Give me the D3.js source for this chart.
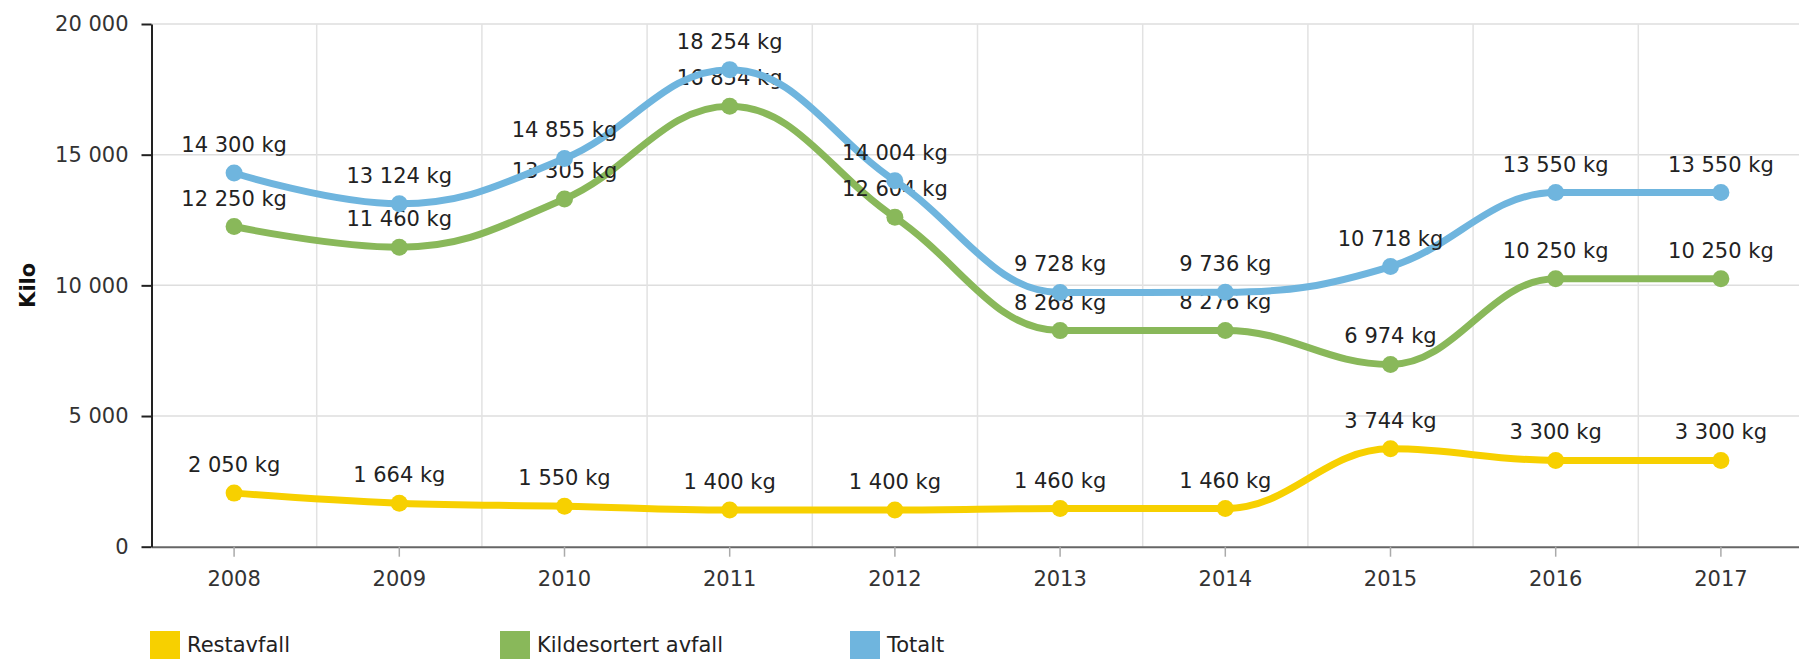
<!DOCTYPE html>
<html>
<head>
<meta charset="utf-8">
<script src="https://cdn.jsdelivr.net/npm/d3@7"></script>
<style>
  html, body { margin: 0; padding: 0; background: #fff; overflow: hidden; }
  svg { display: block; font-family: "DejaVu Sans", Verdana, sans-serif; }
</style>
</head>
<body>
<svg id="chart" width="1799" height="659"></svg>
<script>
// ---- data ----
const years = ["2008","2009","2010","2011","2012","2013","2014","2015","2016","2017"];
const restavfall = [2050, 1664, 1550, 1400, 1400, 1460, 1460, 3744, 3300, 3300];
const kildesortert = [12250, 11460, 13305, 16854, 12604, 8268, 8276, 6974, 10250, 10250];
const totalt = [14300, 13124, 14855, 18254, 14004, 9728, 9736, 10718, 13550, 13550];
const seriesNames = ["Restavfall", "Kildesortert avfall", "Totalt"];
const yTicks = [0, 5000, 10000, 15000, 20000];
const yTitle = "Kilo";
const unit = " kg";

const colors = ["#F7D000", "#89B85A", "#6FB5DE"];
const seriesData = [restavfall, kildesortert, totalt];

const locale = d3.formatLocale({ decimal: ",", thousands: " ", grouping: [3], currency: ["", " kr"] });
const fmt = locale.format(",d");

const svg = d3.select("#chart");
const plotLeft = 151.5, plotTop = 24, plotBottom = 546.7, bandW = 165.2;
const x = d3.scaleBand().domain(years).range([plotLeft, plotLeft + bandW * years.length]).padding(0);
const y = d3.scaleLinear().domain([0, 20000]).range([plotBottom, plotTop]);
const cx = d => x(d) + x.bandwidth() / 2;

// grid
const grid = svg.append("g");
grid.selectAll("line.h").data(yTicks.filter(t => t > 0)).join("line")
  .attr("x1", plotLeft).attr("x2", 1799).attr("y1", d => y(d)).attr("y2", d => y(d))
  .attr("stroke", "#dedede").attr("stroke-width", 1.5);
grid.selectAll("line.v").data(years.slice(1)).join("line")
  .attr("x1", d => x(d)).attr("x2", d => x(d)).attr("y1", plotTop).attr("y2", plotBottom)
  .attr("stroke", "#e2e2e2").attr("stroke-width", 1.5);

// x axis
const xAxis = d3.axisBottom(x).tickSize(10).tickPadding(14).tickSizeOuter(0);
const gx = svg.append("g").attr("transform", `translate(0,${plotBottom})`).call(xAxis);
gx.select(".domain").attr("stroke", "#666").attr("stroke-width", 2);
gx.selectAll(".tick line").attr("stroke", "#aaa").attr("stroke-width", 1.5);
gx.selectAll(".tick text").attr("font-size", 21).attr("fill", "#333")
  .attr("font-family", "DejaVu Sans");

// y axis
const yAxis = d3.axisLeft(y).tickValues(yTicks).tickFormat(fmt).tickSize(10).tickPadding(13).tickSizeOuter(0);
const gy = svg.append("g").attr("transform", `translate(${plotLeft},0)`).call(yAxis);
gy.select(".domain").attr("stroke", "#222").attr("stroke-width", 2);
gy.selectAll(".tick line").attr("stroke", "#222").attr("stroke-width", 2);
gy.selectAll(".tick text").attr("font-size", 21).attr("fill", "#333")
  .attr("font-family", "DejaVu Sans");

svg.append("text")
  .attr("transform", `translate(35,${(plotTop + plotBottom) / 2}) rotate(-90)`)
  .attr("text-anchor", "middle").attr("font-size", 21).attr("font-weight", "bold")
  .attr("fill", "#111").text(yTitle);

// Highcharts-style spline
function splinePath(pts) {
  const smoothing = 1.5, denom = 2.5;
  const p = d3.path();
  const rc = [];
  pts.forEach((pt, i) => {
    const [px, py] = pt;
    let lcx, lcy;
    const last = pts[i - 1], next = pts[i + 1];
    if (last && next) {
      const [lx, ly] = last, [nx, ny] = next;
      lcx = (smoothing * px + lx) / denom;
      lcy = (smoothing * py + ly) / denom;
      let rcx = (smoothing * px + nx) / denom;
      let rcy = (smoothing * py + ny) / denom;
      if (rcx !== lcx) {
        const corr = ((rcy - lcy) * (rcx - px)) / (rcx - lcx) + py - rcy;
        lcy += corr; rcy += corr;
      }
      if (lcy > ly && lcy > py) { lcy = Math.max(ly, py); rcy = 2 * py - lcy; }
      else if (lcy < ly && lcy < py) { lcy = Math.min(ly, py); rcy = 2 * py - lcy; }
      if (rcy > ny && rcy > py) { rcy = Math.max(ny, py); lcy = 2 * py - rcy; }
      else if (rcy < ny && rcy < py) { rcy = Math.min(ny, py); lcy = 2 * py - rcy; }
      rc[i] = [rcx, rcy];
    }
    if (i === 0) p.moveTo(px, py);
    else {
      const prc = rc[i - 1] || pts[i - 1];
      p.bezierCurveTo(prc[0], prc[1], lcx !== undefined ? lcx : px, lcy !== undefined ? lcy : py, px, py);
    }
  });
  return p.toString();
}

// series
seriesData.forEach((vals, si) => {
  const g = svg.append("g");
  const pts = vals.map((v, i) => [cx(years[i]), y(v)]);
  g.append("path").attr("d", splinePath(pts)).attr("fill", "none")
    .attr("stroke", colors[si]).attr("stroke-width", 7).attr("stroke-linejoin", "round").attr("stroke-linecap", "round");
  g.selectAll("circle").data(vals).join("circle")
    .attr("cx", (d, i) => cx(years[i])).attr("cy", d => y(d)).attr("r", 8.5).attr("fill", colors[si]);
  g.selectAll("text").data(vals).join("text")
    .attr("x", (d, i) => cx(years[i])).attr("y", d => y(d) - 21)
    .attr("text-anchor", "middle").attr("font-size", 21).attr("fill", "#222")
    .text(d => fmt(d) + unit);
});

// legend
const lg = svg.append("g");
seriesNames.forEach((name, i) => {
  const lx = 150 + i * 350;
  lg.append("rect").attr("x", lx).attr("y", 631).attr("width", 30).attr("height", 30).attr("fill", colors[i]);
  lg.append("text").attr("x", lx + 37).attr("y", 652).attr("font-size", 21).attr("fill", "#222").text(name);
});
</script>
</body>
</html>
